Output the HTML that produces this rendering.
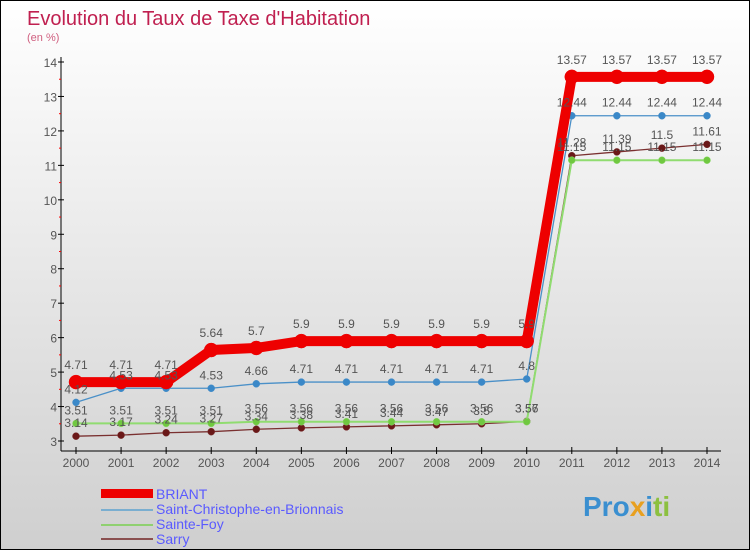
<!DOCTYPE html>
<html><head><meta charset="utf-8"><style>
body{margin:0}
#c{width:750px;height:550px;position:relative;overflow:hidden;box-sizing:border-box;border:1px solid #000;background:linear-gradient(#fff,#cfcfcf);font-family:"Liberation Sans",sans-serif}
</style></head><body>
<div id="c">
<svg id="s" width="750" height="550">
<text x="26" y="24" font-size="20" fill="#c02050" font-family="Liberation Sans, sans-serif">Evolution du Taux de Taxe d'Habitation</text>
<text x="26" y="40" font-size="11" fill="#d06080" font-family="Liberation Sans, sans-serif">(en %)</text>
<g id="axes"></g><g id="series"></g><g id="labels"></g>
<g>
<rect x="100" y="488" width="52" height="9" fill="#e00"/>
<rect x="100" y="508" width="52" height="2" fill="#7aaed0"/>
<rect x="100" y="523" width="52" height="2" fill="#8fd070"/>
<rect x="100" y="537" width="52" height="2" fill="#8a5050"/>
<g font-size="14" fill="#5a5aff" font-family="Liberation Sans, sans-serif">
<text x="155" y="498">BRIANT</text>
<text x="155" y="513">Saint-Christophe-en-Brionnais</text>
<text x="155" y="528">Sainte-Foy</text>
<text x="155" y="543">Sarry</text>
</g></g>
<text x="582" y="515" font-size="28" font-weight="bold" font-family="Liberation Sans, sans-serif"><tspan fill="#3a8fd0">Pro</tspan><tspan fill="#e8a020">x</tspan><tspan fill="#3a8fd0">i</tspan><tspan fill="#8cc040">ti</tspan></text>
</svg></div>
<script>
const years=[2000,2001,2002,2003,2004,2005,2006,2007,2008,2009,2010,2011,2012,2013,2014];
const yTicks=[3,4,5,6,7,8,9,10,11,12,13,14];
const briant=[4.71,4.71,4.71,5.64,5.7,5.9,5.9,5.9,5.9,5.9,5.9,13.57,13.57,13.57,13.57];
const stChristophe=[4.12,4.53,4.53,4.53,4.66,4.71,4.71,4.71,4.71,4.71,4.8,12.44,12.44,12.44,12.44];
const sainteFoy=[3.51,3.51,3.51,3.51,3.56,3.56,3.56,3.56,3.56,3.56,3.56,11.15,11.15,11.15,11.15];
const sarry=[3.14,3.17,3.24,3.27,3.34,3.38,3.41,3.44,3.47,3.5,3.57,11.28,11.39,11.5,11.61];
const NS='http://www.w3.org/2000/svg';
function X(i){return 75+i*(706-75)/(years.length-1);}
function Y(v){return 440-(v-3)*(440-61)/11;}
function mk(t,a,p){const e=document.createElementNS(NS,t);for(const k in a)e.setAttribute(k,a[k]);p.appendChild(e);return e;}
const ax=document.getElementById('axes'),sg=document.getElementById('series'),lg=document.getElementById('labels');
let l=mk('line',{x1:60,y1:56,x2:60,y2:450,stroke:'#000'},ax);


l=mk('line',{x1:60,y1:450,x2:720,y2:450,stroke:'#000'},ax);


yTicks.forEach((v,i)=>{
 mk('line',{x1:57,y1:Y(v),x2:63,y2:Y(v),stroke:'#000'},ax);
 if(i<yTicks.length-1)mk('line',{x1:58,y1:Y(v+0.5),x2:60,y2:Y(v+0.5),stroke:'#f00'},ax);
 const t=mk('text',{x:56,y:Y(v)+5,'font-size':12,fill:'#555','text-anchor':'end'},ax);t.textContent=v;
 
 
});
years.forEach((y,i)=>{
 mk('line',{x1:X(i),y1:446,x2:X(i),y2:453,stroke:'#000'},ax);
 const t=mk('text',{x:X(i),y:466,'font-size':12,fill:'#555','text-anchor':'middle'},ax);t.textContent=y;
 
 
});
function draw(d,name,col,w,r,dark,lab){
 const pts=d.map((v,i)=>X(i)+','+Y(v)).join(' ');
 const p=mk('polyline',{points:pts,fill:'none',stroke:col,'stroke-width':w,'stroke-linejoin':'round'},sg);
 
 
 d.forEach((v,i)=>{
  const c=mk('circle',{cx:X(i),cy:Y(v),r:r,fill:dark,stroke:col,'stroke-width':0.5},sg);
  
  
  const t=mk('text',{x:X(i),y:Y(v)-lab,'font-size':12,fill:'#555','text-anchor':'middle'},lg);
  t.textContent=v;
  
  
 });
}
draw(sarry,'sarry','#7a3030',1.3,3.5,'#6a1818',9);
draw(sainteFoy,'sainte-foy','#90dc70',2,3.5,'#70c840',9);
draw(stChristophe,'saint-christophe','#4a90c8',1.3,3.5,'#3a88c8',9);
draw(briant,'briant','#ee0000',10,7,'#ee0000',13);
</script>
</body></html>
